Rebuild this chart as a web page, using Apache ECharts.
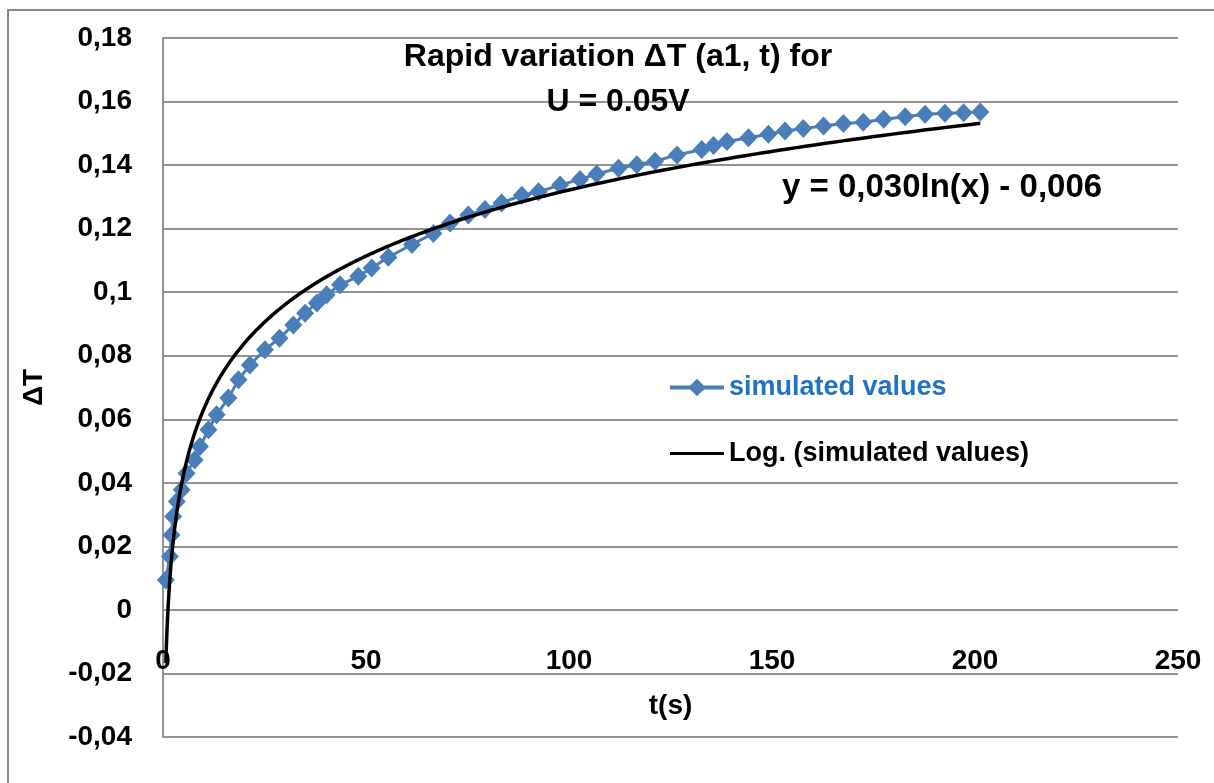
<!DOCTYPE html>
<html>
<head>
<meta charset="utf-8">
<title>Rapid variation ΔT (a1, t)</title>
<script src="https://cdn.jsdelivr.net/npm/echarts@6/dist/echarts.min.js"></script>
<style>
  html, body { margin: 0; padding: 0; background: #ffffff; }
  #chart { width: 1214px; height: 783px; }
</style>
</head>
<body>
<div id="chart"></div>
<script>
// Simulated temperature rise ΔT against time t (s)
const times = [0.7, 1.7, 2.1, 2.5, 3.4, 4.6, 5.8, 7.8, 9.1, 11.2, 13.2, 16.1, 18.6, 21.4,
  25.1, 28.7, 32.1, 35.0, 37.9, 40.3, 43.6, 48.1, 51.4, 55.5, 61.3, 66.6, 70.7, 75.2,
  79.3, 83.4, 88.4, 92.5, 97.8, 102.7, 106.8, 112.2, 116.7, 121.2, 126.6, 132.7, 135.6,
  138.9, 144.2, 149.1, 153.2, 157.7, 162.7, 167.6, 172.5, 177.5, 182.8, 187.7, 192.6,
  197.2, 201.3];
const simulatedValues = [0.0094, 0.0168, 0.0236, 0.0294, 0.0341, 0.0378, 0.0430, 0.0472,
  0.0514, 0.0567, 0.0614, 0.0667, 0.0724, 0.0771, 0.0819, 0.0855, 0.0897, 0.0934, 0.0966,
  0.0992, 0.1023, 0.1050, 0.1076, 0.1110, 0.1150, 0.1185, 0.1218, 0.1243, 0.1260, 0.1281,
  0.1305, 0.1316, 0.1337, 0.1355, 0.1372, 0.1390, 0.1401, 0.1412, 0.1432, 0.1449, 0.1462,
  0.1474, 0.1486, 0.1497, 0.1507, 0.1515, 0.1523, 0.1531, 0.1535, 0.1544, 0.1552, 0.1560,
  0.1563, 0.1565, 0.1567];

// Logarithmic trend line y = a·ln(x) + b, coefficients as printed on the chart
const trendA = 0.030;
const trendB = -0.006;
const trendLabel = 'y = 0,030ln(x) - 0,006';

const seriesNames = ['simulated values', 'Log. (simulated values)'];
const titleLines = ['Rapid variation ΔT (a1, t) for', 'U = 0.05V'];
const xAxisTitle = 't(s)';
const yAxisTitle = 'ΔT';

// Trend curve sampled across the time range of the data
const trendPoints = [];
(function () {
  const t0 = times[0], t1 = times[times.length - 1];
  const n = 400;
  for (let i = 0; i <= n; i++) {
    const t = t0 * Math.pow(t1 / t0, i / n);
    trendPoints.push([t, trendA * Math.log(t) + trendB]);
  }
})();

const FONT = '"Liberation Sans", Arial, sans-serif';
const BLUE = '#4a7ebb';
const GRID_GREY = '#939393';

// Plain horizontal bar used as the legend key of the trend line
const TREND_KEY = 'path://M0,0M54,22M0,9.5L54,9.5L54,12.5L0,12.5Z';

const chart = echarts.init(document.getElementById('chart'), null, { renderer: 'canvas' });

chart.setOption({
  backgroundColor: '#ffffff',
  animation: false,
  title: {
    text: titleLines.join('\n'),
    left: 613,
    top: 30,
    textAlign: 'center',
    textStyle: {
      fontFamily: FONT, fontWeight: 'bold', fontSize: 32, lineHeight: 45, color: '#000'
    }
  },
  grid: { left: 163, top: 38, right: 36, bottom: 46, outerBoundsMode: 'none', containLabel: false },
  legend: {
    orient: 'vertical',
    left: 668,
    top: 374,
    padding: 0,
    itemWidth: 54,
    itemHeight: 22,
    itemGap: 39,
    lineStyle: { width: 4 },
    textStyle: { fontFamily: FONT, fontWeight: 'bold', fontSize: 27 },
    data: [
      { name: seriesNames[0], textStyle: { color: '#1f72c4' } },
      { name: seriesNames[1], icon: TREND_KEY, textStyle: { color: '#000000' } }
    ]
  },
  xAxis: {
    type: 'value',
    min: 0, max: 250, interval: 50,
    name: xAxisTitle,
    nameLocation: 'middle',
    nameGap: -45,
    nameMoveOverlap: false,
    nameTextStyle: { fontFamily: FONT, fontWeight: 'bold', fontSize: 28, color: '#000' },
    axisLine: { show: false, onZero: false },
    axisTick: { show: false },
    splitLine: { show: false },
    axisLabel: {
      // tick labels sit just under the ΔT = 0 line
      margin: -90,
      fontFamily: FONT, fontWeight: 'bold', fontSize: 28, color: '#000'
    }
  },
  yAxis: {
    type: 'value',
    min: -0.04, max: 0.18, interval: 0.02,
    name: yAxisTitle,
    nameLocation: 'middle',
    nameRotate: 90,
    nameGap: 115,
    nameTextStyle: { fontFamily: FONT, fontWeight: 'bold', fontSize: 28, color: '#000' },
    axisLine: { show: true, lineStyle: { color: GRID_GREY, width: 2 } },
    axisTick: { show: false },
    splitLine: { show: true, lineStyle: { color: GRID_GREY, width: 2 } },
    axisLabel: {
      margin: 31,
      fontFamily: FONT, fontWeight: 'bold', fontSize: 28, color: '#000',
      formatter: function (v) { return String(+v.toFixed(2)).replace('.', ','); }
    }
  },
  graphic: [
    {
      type: 'rect', z: -10, silent: true,
      shape: { x: 8, y: 10, width: 1260, height: 820 },
      style: { fill: 'none', stroke: '#8a8a8a', lineWidth: 2 }
    },
    {
      type: 'text', left: 782, top: 171, silent: true,
      style: {
        text: trendLabel, fill: '#000',
        font: 'bold 33px ' + FONT
      }
    }
  ],
  series: [
    {
      name: seriesNames[0],
      type: 'line',
      data: times.map((t, i) => [t, simulatedValues[i]]),
      symbol: 'diamond',
      symbolSize: [18, 19],
      showAllSymbol: true,
      itemStyle: { color: BLUE },
      lineStyle: { color: BLUE, width: 3 },
      z: 2
    },
    {
      name: seriesNames[1],
      type: 'line',
      data: trendPoints,
      symbol: 'none',
      smooth: false,
      lineStyle: { color: '#000000', width: 3.5 },
      itemStyle: { color: '#000000' },
      z: 3
    }
  ]
});
</script>
</body>
</html>
